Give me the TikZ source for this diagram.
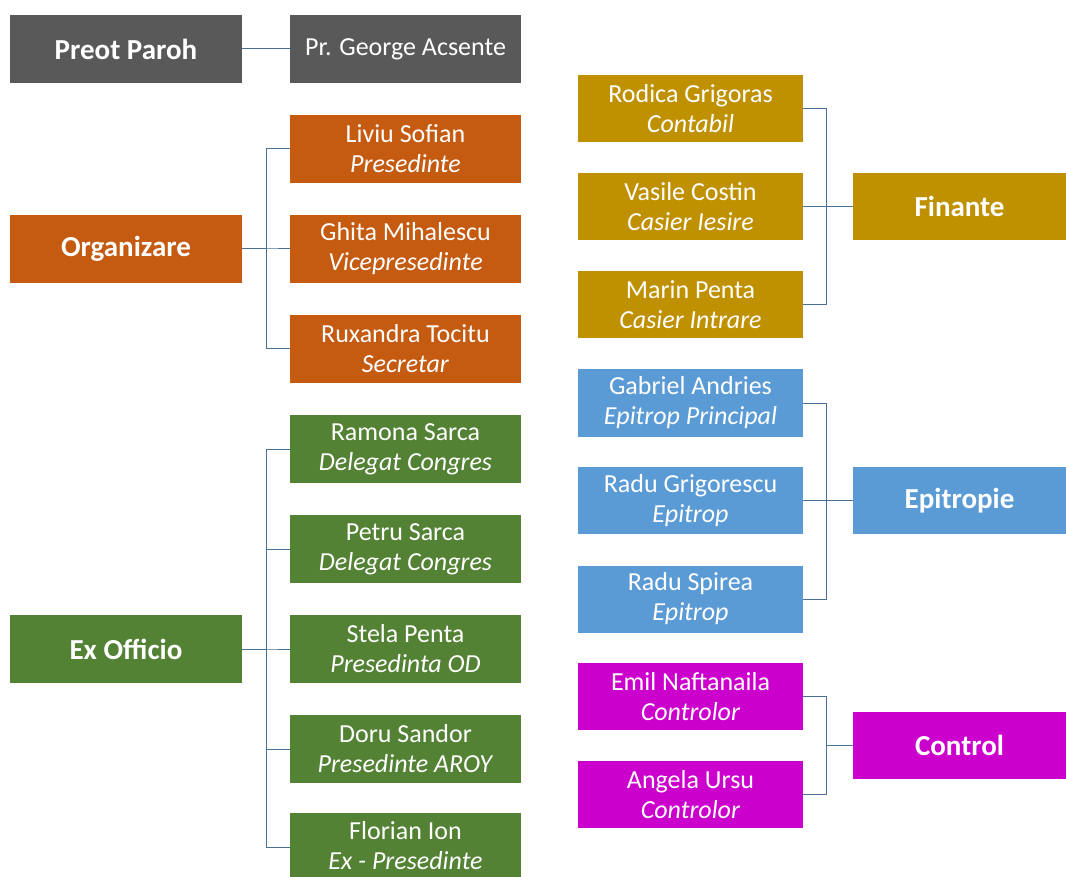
\documentclass[tikz,border=0pt]{standalone}
\usepackage{fontspec}
\setmainfont{Carlito}
\definecolor{cgrey}{HTML}{595959}
\definecolor{corange}{HTML}{C55A11}
\definecolor{cgreen}{HTML}{548235}
\definecolor{cgold}{HTML}{BF9000}
\definecolor{cblue}{HTML}{5B9BD5}
\definecolor{cmag}{HTML}{CC00CC}
\definecolor{cline}{HTML}{4A6F97}
\tikzset{
  box/.style={rectangle, inner sep=0pt, text=white, align=center,
    font=\fontsize{26}{30}\selectfont},
  headbox/.style={box, font=\fontsize{29}{33}\selectfont\bfseries},
  colL/.style={minimum width=232pt, minimum height=68pt},
  colM/.style={minimum width=231pt, minimum height=68pt},
  colR/.style={minimum width=225pt, minimum height=67pt},
  colH/.style={minimum width=213pt, minimum height=67pt},
  conn/.style={draw=cline, line width=1pt},
}
\begin{document}
\begin{tikzpicture}[x=1pt,y=-1pt]
\clip (0,0) rectangle (1066,877);
\fill[white] (0,0) rectangle (1066,877);
% top
\node[headbox, colL, fill=cgrey] (preot) at (126,49) {Preot Paroh};
\node[box, colM, fill=cgrey] (george) at (405.5,49) {Pr. George Acsente};
% organizare
\node[headbox, colL, fill=corange] (org) at (126,249) {Organizare};
\node[box, colM, fill=corange] (liviu) at (405.5,149) {Liviu Sofian\\\textit{Presedinte}};
\node[box, colM, fill=corange] (ghita) at (405.5,249) {Ghita Mihalescu\\\textit{Vicepresedinte}};
\node[box, colM, fill=corange] (rux) at (405.5,349) {Ruxandra Tocitu\\\textit{Secretar}};
% ex officio
\node[headbox, colL, fill=cgreen] (exo) at (126,649) {Ex Officio};
\node[box, colM, fill=cgreen] (ramona) at (405.5,449) {Ramona Sarca\\\textit{Delegat Congres}};
\node[box, colM, fill=cgreen] (petru) at (405.5,549) {Petru Sarca\\\textit{Delegat Congres}};
\node[box, colM, fill=cgreen] (stela) at (405.5,649) {Stela Penta\\\textit{Presedinta OD}};
\node[box, colM, fill=cgreen] (doru) at (405.5,749) {Doru Sandor\\\textit{Presedinte AROY}};
\node[box, fill=cgreen, minimum width=231pt, minimum height=64pt, anchor=north] (florian) at (405.5,813) {Florian Ion\\\textit{Ex - Presedinte}};
% finante
\node[headbox, colH, fill=cgold] (fin) at (959.5,206.5) {Finante};
\node[box, colR, fill=cgold] (rodica) at (690.5,108.5) {Rodica Grigoras\\\textit{Contabil}};
\node[box, colR, fill=cgold] (vasile) at (690.5,206.5) {Vasile Costin\\\textit{Casier Iesire}};
\node[box, colR, fill=cgold] (marin) at (690.5,304.5) {Marin Penta\\\textit{Casier Intrare}};
% epitropie
\node[headbox, colH, fill=cblue] (epi) at (959.5,500.5) {Epitropie};
\node[box, colR, fill=cblue] (gabriel) at (690.5,403) {Gabriel Andries\\\textit{Epitrop Principal}};
\node[box, colR, fill=cblue] (radug) at (690.5,500.5) {Radu Grigorescu\\\textit{Epitrop}};
\node[box, colR, fill=cblue] (raduS) at (690.5,599) {Radu Spirea\\\textit{Epitrop}};
% control
\node[headbox, colH, fill=cmag] (ctrl) at (959.5,745) {Control};
\node[box, colR, fill=cmag] (emil) at (690.5,696.5) {Emil Naftanaila\\\textit{Controlor}};
\node[box, colR, fill=cmag] (angela) at (690.5,794.5) {Angela Ursu\\\textit{Controlor}};
% connectors
\draw[conn] (preot.east) -- (george.west);
\foreach \c in {liviu,ghita,rux}
  \draw[conn] (org.east) -- ++(24,0) |- (\c.west);
\foreach \c in {ramona,petru,stela,doru}
  \draw[conn] (exo.east) -- ++(24,0) |- (\c.west);
\draw[conn] (exo.east) -- ++(24,0) |- ([yshift=-2pt]florian.west);
\foreach \c in {rodica,vasile,marin}
  \draw[conn] (fin.west) -- ++(-26,0) |- (\c.east);
\foreach \c in {gabriel,radug,raduS}
  \draw[conn] (epi.west) -- ++(-26,0) |- (\c.east);
\foreach \c in {emil,angela}
  \draw[conn] (ctrl.west) -- ++(-26,0) |- (\c.east);
\end{tikzpicture}
\end{document}
